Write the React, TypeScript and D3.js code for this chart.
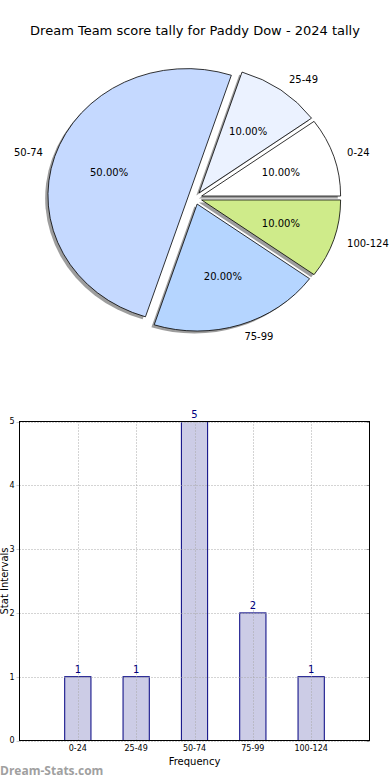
import React from "react";
import * as d3 from "d3";

const categories = ["0-24", "25-49", "50-74", "75-99", "100-124"];
const counts = [1, 1, 5, 2, 1];
const sliceColors = ["#ffffff", "#ebf2ff", "#c5d9ff", "#b5d5ff", "#cfeb8a"];
const yTicks = [0, 1, 2, 3, 4, 5];
const titleText = "Dream Team score tally for Paddy Dow - 2024 tally";

const W = 390;
const H = 780;
const FONT = "DejaVu Sans, sans-serif";

export default function App() {
  // Pie geometry
  const cx = 195;
  const cy = 198;
  const rx = 139;
  const ry = 127;
  const explode = 0.05;
  const total = d3.sum(counts);

  const pie = d3
    .pie<number>()
    .sort(null)
    .startAngle(Math.PI / 2)
    .endAngle(Math.PI / 2 - 2 * Math.PI)
    .value((d) => d);
  const arcs = pie(counts);
  const arcGen = d3.arc<any>().innerRadius(0).outerRadius(1);

  const slices = arcs.map((a, i) => {
    const mid = (a.startAngle + a.endAngle) / 2;
    const ox = cx + rx * explode * Math.sin(mid);
    const oy = cy - ry * explode * Math.cos(mid);
    return { a, i, mid, ox, oy };
  });

  // Bar geometry
  const axL = 19.5;
  const axR = 369.5;
  const axT = 421.5;
  const axB = 740.5;
  const x = d3.scaleLinear().domain([-1, 5]).range([axL, axR]);
  const y = d3.scaleLinear().domain([0, 5]).range([axB, axT]);
  const barW = 0.45;

  return (
    <svg
      width={W}
      height={H}
      style={{ position: "absolute", left: 0, top: 0, background: "#fff" }}
      fontFamily={FONT}
    >
      <rect x={0} y={0} width={W} height={H} fill="#fff" />
      <text x={195} y={35} textAnchor="middle" fontSize={13} fill="#000">
        {titleText}
      </text>

      {/* shadows */}
      {slices.map((s) => (
        <path
          key={"sh" + s.i}
          d={arcGen(s.a) as string}
          transform={`translate(${s.ox - 0.02 * rx},${s.oy + 0.02 * ry}) scale(${rx},${ry})`}
          fill="rgba(60,60,60,0.5)"
          stroke="none"
        />
      ))}
      {/* wedges */}
      {slices.map((s) => (
        <path
          key={"w" + s.i}
          d={arcGen(s.a) as string}
          transform={`translate(${s.ox},${s.oy}) scale(${rx},${ry})`}
          fill={sliceColors[s.i]}
          stroke="#000"
          strokeWidth={0.8}
          vectorEffect="non-scaling-stroke"
        />
      ))}
      {/* labels */}
      {slices.map((s) => {
        const lx = s.ox + 1.1 * rx * Math.sin(s.mid);
        const ly = s.oy - 1.1 * ry * Math.cos(s.mid);
        const px = s.ox + 0.6 * rx * Math.sin(s.mid);
        const py = s.oy - 0.6 * ry * Math.cos(s.mid);
        const pct = ((counts[s.i] / total) * 100).toFixed(2) + "%";
        return (
          <g key={"l" + s.i}>
            <text
              x={lx}
              y={ly}
              dy="0.35em"
              fontSize={10}
              textAnchor={Math.sin(s.mid) < 0 ? "end" : "start"}
              fill="#000"
            >
              {categories[s.i]}
            </text>
            <text x={px} y={py} dy="0.35em" fontSize={10} textAnchor="middle" fill="#000">
              {pct}
            </text>
          </g>
        );
      })}

      {/* Bar chart */}
      <rect x={axL} y={axT} width={axR - axL} height={axB - axT} fill="#fff" />
      {counts.map((c, i) => (
        <rect
          key={"b" + i}
          x={x(i - barW / 2)}
          y={y(c)}
          width={x(i + barW / 2) - x(i - barW / 2)}
          height={y(0) - y(c)}
          fill="#ccccE6"
          stroke="#000080"
          strokeWidth={1}
        />
      ))}
      {/* grid */}
      {categories.map((_, i) => (
        <line
          key={"gx" + i}
          x1={Math.round(x(i)) + 0.5}
          x2={Math.round(x(i)) + 0.5}
          y1={axT}
          y2={axB}
          stroke="#a8a8a8"
          strokeWidth={1}
          strokeDasharray="1,2"
        />
      ))}
      {yTicks.map((t) => (
        <line
          key={"gy" + t}
          x1={axL}
          x2={axR}
          y1={Math.round(y(t)) + 0.5}
          y2={Math.round(y(t)) + 0.5}
          stroke="#a8a8a8"
          strokeWidth={1}
          strokeDasharray="1,2"
        />
      ))}
      {/* right ticks */}
      {yTicks.map((t) => (
        <line
          key={"rt" + t}
          x1={axR - 3}
          x2={axR}
          y1={Math.round(y(t)) + 0.5}
          y2={Math.round(y(t)) + 0.5}
          stroke="#999"
        />
      ))}
      {yTicks.map((t) => (
        <line
          key={"lt" + t}
          x1={axL - 3}
          x2={axL}
          y1={Math.round(y(t)) + 0.5}
          y2={Math.round(y(t)) + 0.5}
          stroke="#ccc"
        />
      ))}
      <rect
        x={axL}
        y={axT}
        width={axR - axL}
        height={axB - axT}
        fill="none"
        stroke="#000"
        strokeWidth={1}
      />
      {/* value labels */}
      {counts.map((c, i) => (
        <text
          key={"v" + i}
          x={x(i)}
          y={y(c) - 4}
          textAnchor="middle"
          fontSize={10}
          fill="#000080"
        >
          {c}
        </text>
      ))}
      {/* y tick labels */}
      {yTicks.map((t) => (
        <text
          key={"yl" + t}
          x={axL - 5}
          y={y(t)}
          dy="0.35em"
          textAnchor="end"
          fontSize={8}
          fill="#000"
        >
          {t}
        </text>
      ))}
      {/* x tick labels */}
      {categories.map((c, i) => (
        <text
          key={"xl" + i}
          x={x(i)}
          y={axB + 10}
          textAnchor="middle"
          fontSize={8}
          fill="#000"
        >
          {c}
        </text>
      ))}
      <text x={(axL + axR) / 2} y={765} textAnchor="middle" fontSize={10} fill="#000">
        Frequency
      </text>
      <text
        transform={`translate(8,${(axT + axB) / 2}) rotate(-90)`}
        textAnchor="middle"
        fontSize={10}
        fill="#000"
      >
        Stat Intervals
      </text>
      <text x={0} y={775} fontSize={12} fontWeight="bold" fill="#a0a0a0" fontFamily="Open Sans, sans-serif">
        Dream-Stats.com
      </text>
    </svg>
  );
}
